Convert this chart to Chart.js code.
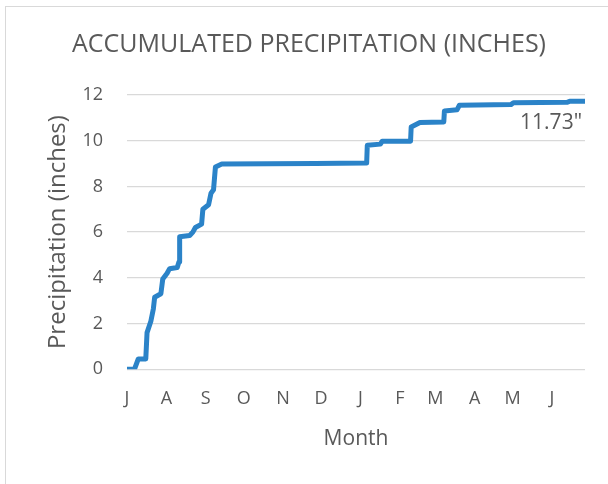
<!DOCTYPE html>
<html>
<head>
<meta charset="utf-8">
<script src="https://cdn.jsdelivr.net/npm/chart.js@4"></script>
<style>
  html, body { margin: 0; padding: 0; background: #fff; }
  #wrap { position: relative; width: 608px; height: 484px; overflow: hidden; }
  #frame { position: absolute; left: 5px; top: 6px; width: 700px; height: 600px;
           border-left: 1px solid #d9d9d9; border-top: 1px solid #d9d9d9; }
  canvas { position: absolute; left: 0; top: 0; }
</style>
</head>
<body>
<div id="wrap">
  <div id="frame"></div>
  <canvas id="precip-chart" width="608" height="484"></canvas>
</div>
<script>
// dias desde 1 de julho e precipitação acumulada (polegadas)
const dias = [0, 5.9, 8.9, 14.8, 15.8, 18.8, 20.8, 21.8, 26.7, 28.2, 31.6, 33.6, 39.6, 41, 41.5, 49.4, 51.9, 53.9, 58.8, 59.8,
              64.3, 66.2, 68.2, 69.7, 74.7, 148.3, 188.9, 189.4, 199.7, 201.2, 223.5, 224, 230.9, 249.7, 250.2,
              260.1, 262, 302.6, 304.6, 347.1, 349, 361];
const acumulado = [0, 0, 0.45, 0.45, 1.6, 2.1, 2.65, 3.15, 3.3, 3.95, 4.2, 4.4, 4.45, 4.7, 5.8, 5.85, 6.0, 6.2, 6.35, 7.0,
                   7.2, 7.7, 7.85, 8.85, 8.98, 9.0, 9.02, 9.8, 9.85, 9.98, 9.98, 10.6, 10.8, 10.82, 11.3,
                   11.35, 11.55, 11.58, 11.66, 11.68, 11.73, 11.73];
const inicioMes = [0, 31, 62, 92, 123, 153, 184, 215, 243, 274, 304, 335];
const letrasMes = ['J', 'A', 'S', 'O', 'N', 'D', 'J', 'F', 'M', 'A', 'M', 'J'];
const ticksY = [0, 2, 4, 6, 8, 10, 12];

const fonte = '"Open Sans", sans-serif';
const cinza = '#595959';

// rótulo com o total no fim da linha
const rotuloTotal = {
    id: 'rotuloTotal',
    afterDatasetsDraw(chart) {
        const meta = chart.getDatasetMeta(0);
        const ultimo = meta.data[meta.data.length - 1];
        const ctx = chart.ctx;
        ctx.save();
        ctx.font = '21px ' + fonte;
        ctx.fillStyle = cinza;
        ctx.textAlign = 'right';
        ctx.textBaseline = 'middle';
        ctx.fillText(acumulado[acumulado.length - 1].toFixed(2) + '"', ultimo.x - 3, ultimo.y + 22);
        ctx.restore();
    }
};

const ctx = document.getElementById('precip-chart');
new Chart(ctx, {
    type: 'line',
    data: {
        datasets: [{
            label: 'Accumulated',
            data: dias.map((d, i) => ({ x: d, y: acumulado[i] })),
            borderColor: '#2b83c8',
            borderWidth: 5,
            pointRadius: 0,
            tension: 0,
            fill: false,
            borderJoinStyle: 'round',
            borderCapStyle: 'round'
        }]
    },
    options: {
        responsive: false,
        animation: false,
        layout: { padding: { left: 33, right: 23, top: 0, bottom: 32 } },
        plugins: {
            legend: { display: false },
            tooltip: { enabled: false },
            title: {
                display: true,
                text: 'ACCUMULATED PRECIPITATION (INCHES)',
                color: cinza,
                font: { family: fonte, size: 25, weight: 'normal' },
                padding: { top: 30, bottom: 35 }
            }
        },
        scales: {
            x: {
                type: 'linear',
                min: 0,
                max: 361,
                afterBuildTicks: scale => { scale.ticks = inicioMes.map(v => ({ value: v })); },
                ticks: {
                    color: cinza,
                    font: { family: fonte, size: 18 },
                    padding: 11,
                    maxRotation: 0,
                    autoSkip: false,
                    callback: value => letrasMes[inicioMes.indexOf(value)]
                },
                grid: { display: false },
                border: { display: false },
                title: {
                    display: true,
                    text: 'Month',
                    color: cinza,
                    font: { family: fonte, size: 21 },
                    padding: { top: 6, bottom: 0 }
                }
            },
            y: {
                min: 0,
                max: 12,
                afterBuildTicks: scale => { scale.ticks = ticksY.map(v => ({ value: v })); },
                afterFit: scale => { scale.width = 94; },
                ticks: {
                    color: cinza,
                    font: { family: fonte, size: 18 },
                    padding: 24
                },
                grid: { color: '#d9d9d9', lineWidth: 1.3, drawTicks: false },
                border: { display: false },
                title: {
                    display: true,
                    text: 'Precipitation (inches)',
                    color: cinza,
                    font: { family: fonte, size: 24 },
                    padding: { top: 11, bottom: 0 }
                }
            }
        }
    },
    plugins: [rotuloTotal]
});
</script>
</body>
</html>
